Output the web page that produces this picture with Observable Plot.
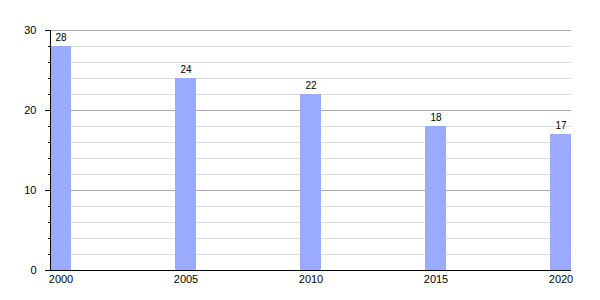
<!DOCTYPE html>
<html><head><meta charset="utf-8">
<script src="https://cdn.jsdelivr.net/npm/d3@7"></script>
<script src="https://cdn.jsdelivr.net/npm/@observablehq/plot@0.6"></script>
<style>body{margin:0;background:#fff}</style>
</head><body><div id="chart"></div>
<script>
const years = [2000, 2005, 2010, 2015, 2020];
const values = [28, 24, 22, 18, 17];
const majorTicks = [0, 10, 20, 30];
const minorTicks = [2, 4, 6, 8, 12, 14, 16, 18, 22, 24, 26, 28];

const data = years.map((y, i) => ({year: String(y), value: values[i]}));

const chart = Plot.plot({
  width: 600, height: 300,
  marginLeft: 50, marginRight: 29, marginTop: 30, marginBottom: 30,
  style: {fontFamily: "'Liberation Sans', Arial, sans-serif", fontSize: "11px", background: "#fff", color: "#000"},
  x: {type: "band", domain: years.map(String), paddingInner: 0.832, paddingOuter: 0, align: 0},
  y: {domain: [0, 30]},
  marks: [
    Plot.ruleY(minorTicks, {stroke: "#dddddd", strokeWidth: 1}),
    Plot.ruleY([10, 20, 30], {stroke: "#aaaaaa", strokeWidth: 1}),
    Plot.barY(data, {x: "year", y: "value", fill: "#99aaff"}),
    Plot.text(data, {x: "year", y: "value", text: d => String(d.value), dy: -9, fontSize: 10, fill: "#000"}),
    Plot.axisY(majorTicks, {tickSize: 5, tickPadding: 9, label: null, stroke: "#000"}),
    Plot.axisY(minorTicks, {tickSize: 2, tickFormat: () => "", label: null, stroke: "#000"}),
    Plot.axisX({tickSize: 0, tickPadding: 5, label: null}),
    Plot.frame({anchor: "left", stroke: "#000"}),
    Plot.ruleY([0], {stroke: "#000", insetLeft: -5})
  ]
});
document.getElementById("chart").append(chart);
</script>
</body></html>
